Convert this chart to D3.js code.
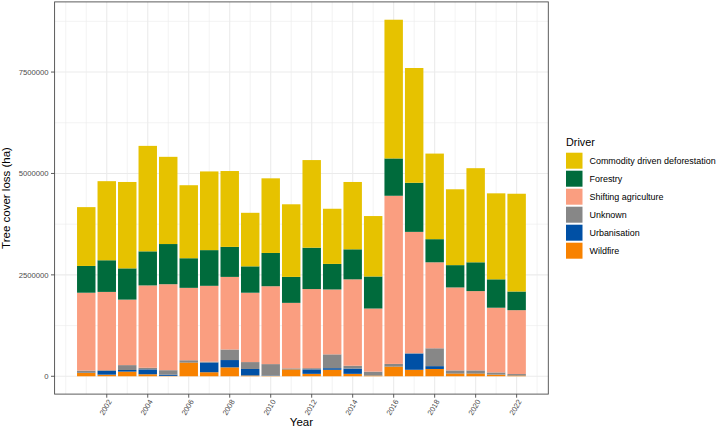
<!DOCTYPE html>
<html>
<head>
<meta charset="utf-8">
<script src="https://cdn.jsdelivr.net/npm/d3@7"></script>
<style>
  body { margin: 0; background: #fff; }
  svg text { font-family: "Liberation Sans", Arial, sans-serif; }
</style>
</head>
<body>
<div id="chart"></div>
<script>
// tree cover loss per year by driver (ha)
var years = [2001, 2002, 2003, 2004, 2005, 2006, 2007, 2008, 2009, 2010, 2011,
             2012, 2013, 2014, 2015, 2016, 2017, 2018, 2019, 2020, 2021, 2022];
var commodity = [1450000, 1950000, 2130000, 2600000, 2150000, 1800000, 1940000, 1870000, 1320000, 1840000, 1790000,
                 2160000, 1360000, 1660000, 1490000, 3420000, 2830000, 2110000, 1870000, 2320000, 2120000, 2410000];
var forestry = [660000, 780000, 770000, 840000, 990000, 730000, 880000, 740000, 650000, 820000, 640000,
                1020000, 630000, 740000, 790000, 920000, 1210000, 570000, 550000, 710000, 700000, 460000];
var shifting = [1920000, 1930000, 1615000, 2030000, 2120000, 1785000, 1870000, 1790000, 1710000, 1920000, 1615000,
                1950000, 1600000, 2130000, 1555000, 4145000, 2990000, 2120000, 2045000, 1955000, 1595000, 1575000];
var unknown = [40000, 20000, 120000, 40000, 110000, 50000, 20000, 260000, 170000, 280000, 20000,
               30000, 340000, 70000, 90000, 60000, 10000, 440000, 70000, 70000, 50000, 30000];
var urbanisation = [10000, 90000, 40000, 120000, 30000, 5000, 240000, 180000, 160000, 10000, 5000,
                    110000, 40000, 130000, 5000, 5000, 400000, 70000, 5000, 5000, 5000, 5000];
var wildfire = [90000, 40000, 115000, 50000, 10000, 340000, 100000, 220000, 20000, 10000, 170000,
                60000, 160000, 60000, 20000, 240000, 160000, 180000, 70000, 70000, 40000, 20000];

var drivers = ["Commodity driven deforestation", "Forestry", "Shifting agriculture", "Unknown", "Urbanisation", "Wildfire"];
var driverValues = [commodity, forestry, shifting, unknown, urbanisation, wildfire];
var driverColors = ["#E6C200", "#006B3C", "#FA9E80", "#878787", "#0050A5", "#F88200"];

var xBreaks = [2002, 2004, 2006, 2008, 2010, 2012, 2014, 2016, 2018, 2020, 2022];
var yBreaks = [0, 2500000, 5000000, 7500000];
var yMinorBreaks = [1250000, 3750000, 6250000, 8750000];

chart('#chart');

function chart(id) {
	var width = 718;
	var height = 429;
	var panel = { left: 54.6, right: 548.3, top: 1.9, bottom: 394.1 };

	var svg = d3.select(id).append("svg")
		.attr("width", width)
		.attr("height", height);

	// rows for the stack, bottom driver first
	var rows = years.map(function (yr, i) {
		var r = { year: yr };
		drivers.forEach(function (d, k) { r[d] = driverValues[k][i]; });
		return r;
	});
	var stack = d3.stack().keys(drivers.slice().reverse());
	var series = stack(rows);

	var barW = 0.9;
	var xMin = d3.min(years) - barW / 2, xMax = d3.max(years) + barW / 2;
	var xPad = (xMax - xMin) * 0.05;
	var x = d3.scaleLinear()
		.domain([xMin - xPad, xMax + xPad])
		.range([panel.left, panel.right]);

	var yTop = d3.max(rows, function (r) { return d3.sum(drivers, function (d) { return r[d]; }); });
	var y = d3.scaleLinear()
		.domain([-yTop * 0.05, yTop * 1.05])
		.range([panel.bottom, panel.top]);

	// grid
	var grid = svg.append("g");
	var xMinor = d3.range(Math.ceil(x.domain()[0]), Math.floor(x.domain()[1]) + 1)
		.filter(function (v) { return xBreaks.indexOf(v) < 0; });
	grid.selectAll(".xminor").data(xMinor).enter().append("line")
		.attr("x1", function (d) { return x(d); }).attr("x2", function (d) { return x(d); })
		.attr("y1", panel.top).attr("y2", panel.bottom)
		.attr("stroke", "#EBEBEB").attr("stroke-width", 0.6);
	grid.selectAll(".yminor").data(yMinorBreaks).enter().append("line")
		.attr("x1", panel.left).attr("x2", panel.right)
		.attr("y1", function (d) { return y(d); }).attr("y2", function (d) { return y(d); })
		.attr("stroke", "#EBEBEB").attr("stroke-width", 0.6);
	grid.selectAll(".xmajor").data(xBreaks).enter().append("line")
		.attr("x1", function (d) { return x(d); }).attr("x2", function (d) { return x(d); })
		.attr("y1", panel.top).attr("y2", panel.bottom)
		.attr("stroke", "#EBEBEB").attr("stroke-width", 1.1);
	grid.selectAll(".ymajor").data(yBreaks).enter().append("line")
		.attr("x1", panel.left).attr("x2", panel.right)
		.attr("y1", function (d) { return y(d); }).attr("y2", function (d) { return y(d); })
		.attr("stroke", "#EBEBEB").attr("stroke-width", 1.1);

	// bars
	var colorOf = d3.scaleOrdinal().domain(drivers).range(driverColors);
	var bars = svg.append("g");
	series.forEach(function (s) {
		bars.append("g")
			.attr("fill", colorOf(s.key))
			.selectAll("rect").data(s).enter().append("rect")
			.attr("x", function (d) { return x(d.data.year - barW / 2); })
			.attr("width", function (d) { return x(d.data.year + barW / 2) - x(d.data.year - barW / 2); })
			.attr("y", function (d) { return y(d[1]); })
			.attr("height", function (d) { return Math.max(0, y(d[0]) - y(d[1])); });
	});

	// panel border
	svg.append("rect")
		.attr("x", panel.left).attr("y", panel.top)
		.attr("width", panel.right - panel.left).attr("height", panel.bottom - panel.top)
		.attr("fill", "none").attr("stroke", "#4A4A4A").attr("stroke-width", 0.9);

	// y axis
	var yAxis = svg.append("g");
	yAxis.selectAll("line").data(yBreaks).enter().append("line")
		.attr("x1", panel.left - 3.6).attr("x2", panel.left)
		.attr("y1", function (d) { return y(d); }).attr("y2", function (d) { return y(d); })
		.attr("stroke", "#4A4A4A").attr("stroke-width", 0.9);
	yAxis.selectAll("text").data(yBreaks).enter().append("text")
		.attr("x", panel.left - 6).attr("y", function (d) { return y(d); })
		.attr("dy", "0.35em")
		.attr("text-anchor", "end")
		.attr("fill", "#4D4D4D")
		.style("font-size", "7.7px")
		.text(function (d) { return d3.format("d")(d); });

	// x axis
	var xAxis = svg.append("g");
	xAxis.selectAll("line").data(xBreaks).enter().append("line")
		.attr("x1", function (d) { return x(d); }).attr("x2", function (d) { return x(d); })
		.attr("y1", panel.bottom).attr("y2", panel.bottom + 3.6)
		.attr("stroke", "#4A4A4A").attr("stroke-width", 0.9);
	xAxis.selectAll("text").data(xBreaks).enter().append("text")
		.attr("transform", function (d) { return "translate(" + (x(d) + 3) + "," + (panel.bottom + 6) + ") rotate(-60)"; })
		.attr("dy", "0.35em")
		.attr("text-anchor", "end")
		.attr("fill", "#4D4D4D")
		.style("font-size", "7.5px")
		.text(function (d) { return d; });

	// titles
	svg.append("text")
		.attr("x", (panel.left + panel.right) / 2).attr("y", 426)
		.attr("text-anchor", "middle")
		.attr("fill", "#000")
		.style("font-size", "11.5px")
		.text("Year");
	svg.append("text")
		.attr("transform", "translate(10," + ((panel.top + panel.bottom) / 2) + ") rotate(-90)")
		.attr("text-anchor", "middle")
		.attr("fill", "#000")
		.style("font-size", "11.5px")
		.text("Tree cover loss (ha)");

	createLegend(svg, colorOf, { x: 566, y: 152.7 });
}

function createLegend(svg, colorOf, props) {
	var g = svg.append("g");
	g.attr("transform", "translate(" + props.x + "," + props.y + ")");

	g.append("text")
		.attr("x", 0).attr("y", -7)
		.attr("fill", "#000")
		.style("font-size", "10.8px")
		.text("Driver");

	var item = g.selectAll(".item").data(drivers).enter().append("g")
		.attr("transform", function (d, i) { return "translate(0," + (i * 18) + ")"; });

	item.append("rect")
		.attr("x", 0).attr("y", 0)
		.attr("width", 16.5).attr("height", 16)
		.attr("fill", function (d) { return colorOf(d); });

	item.append("text")
		.attr("x", 23.5).attr("y", 8)
		.attr("dy", "0.35em")
		.attr("fill", "#000")
		.style("font-size", "8.95px")
		.text(function (d) { return d; });
}
</script>
</body>
</html>
